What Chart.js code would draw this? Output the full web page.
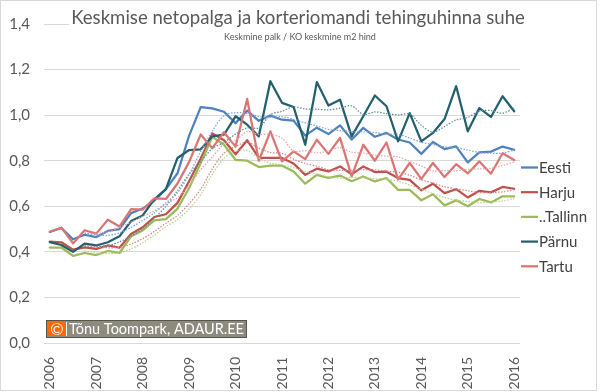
<!DOCTYPE html>
<html>
<head>
<meta charset="utf-8">
<script src="https://cdn.jsdelivr.net/npm/chart.js@4.4.1/dist/chart.umd.min.js"></script>
<style>
  html, body { margin: 0; padding: 0; background: #fff; }
</style>
</head>
<body>
<canvas id="chart" width="600" height="392"></canvas>
<script>
// quarterly observations, 2006 Q1 .. 2016 Q1
const quarters = [
  '2006 Q1','2006 Q2','2006 Q3','2006 Q4','2007 Q1','2007 Q2','2007 Q3','2007 Q4',
  '2008 Q1','2008 Q2','2008 Q3','2008 Q4','2009 Q1','2009 Q2','2009 Q3','2009 Q4',
  '2010 Q1','2010 Q2','2010 Q3','2010 Q4','2011 Q1','2011 Q2','2011 Q3','2011 Q4',
  '2012 Q1','2012 Q2','2012 Q3','2012 Q4','2013 Q1','2013 Q2','2013 Q3','2013 Q4',
  '2014 Q1','2014 Q2','2014 Q3','2014 Q4','2015 Q1','2015 Q2','2015 Q3','2015 Q4',
  '2016 Q1'
];
const yearLabels = ['2006','2007','2008','2009','2010','2011','2012','2013','2014','2015','2016'];
const seriesNames = ['Eesti', 'Harju', '..Tallinn', 'Pärnu', 'Tartu'];

const eesti = [0.487,0.505,0.455,0.475,0.465,0.492,0.500,0.570,0.590,0.625,0.675,0.745,0.910,1.035,1.030,1.015,
  0.965,1.020,0.975,0.998,0.980,0.976,0.910,0.945,0.917,0.955,0.893,0.944,0.905,0.922,0.893,0.880,
  0.830,0.882,0.851,0.863,0.793,0.837,0.840,0.862,0.848];
const harju = [0.445,0.442,0.410,0.420,0.413,0.428,0.418,0.478,0.508,0.553,0.565,0.615,0.710,0.810,0.920,0.890,
  0.828,0.890,0.812,0.812,0.812,0.788,0.738,0.765,0.753,0.775,0.740,0.775,0.750,0.752,0.724,0.716,
  0.670,0.699,0.658,0.675,0.639,0.668,0.661,0.685,0.677];
const tallinn = [0.419,0.419,0.382,0.395,0.386,0.404,0.395,0.468,0.494,0.538,0.544,0.590,0.680,0.790,0.905,0.870,
  0.804,0.800,0.772,0.778,0.778,0.753,0.699,0.738,0.725,0.735,0.710,0.731,0.709,0.724,0.672,0.672,
  0.626,0.653,0.604,0.626,0.600,0.632,0.617,0.644,0.644];
const parnu = [0.443,0.430,0.400,0.436,0.428,0.442,0.468,0.535,0.560,0.630,0.675,0.812,0.847,0.850,0.907,0.914,
  0.995,0.958,0.907,1.149,1.054,1.036,0.870,1.145,1.042,1.068,0.907,0.995,1.086,1.039,0.885,1.009,
  0.885,0.922,0.983,1.127,0.929,1.031,0.992,1.083,1.017];
const tartu = [0.488,0.506,0.437,0.495,0.480,0.541,0.511,0.588,0.585,0.635,0.632,0.700,0.795,0.915,0.855,0.925,
  0.862,1.071,0.800,0.929,0.797,0.841,0.807,0.892,0.830,0.900,0.731,0.870,0.800,0.880,0.718,0.790,
  0.720,0.790,0.728,0.785,0.744,0.797,0.743,0.833,0.803];

// dotted trend lines (4-quarter moving average as drawn in the original)
const eestiTrend = [null,null,null,0.481,0.475,0.472,0.483,0.507,0.538,0.571,0.615,0.659,0.739,0.841,0.930,0.998,
  1.011,1.008,0.994,0.990,0.993,0.982,0.966,0.953,0.937,0.932,0.928,0.927,0.924,0.916,0.916,0.900,
  0.881,0.871,0.861,0.857,0.847,0.836,0.833,0.833,0.847];
const harjuTrend = [null,null,null,0.429,0.421,0.418,0.420,0.434,0.458,0.489,0.526,0.560,0.611,0.675,0.764,0.833,
  0.862,0.882,0.855,0.836,0.832,0.806,0.788,0.776,0.761,0.758,0.758,0.761,0.760,0.754,0.750,0.736,
  0.716,0.702,0.686,0.676,0.668,0.660,0.661,0.663,0.673];
const tallinnTrend = [null,null,null,0.404,0.396,0.392,0.395,0.413,0.440,0.474,0.511,0.542,0.588,0.651,0.741,0.811,
  0.842,0.845,0.812,0.789,0.782,0.770,0.752,0.742,0.729,0.724,0.727,0.725,0.721,0.719,0.709,0.694,
  0.674,0.656,0.639,0.627,0.621,0.616,0.619,0.623,0.634];
const parnuTrend = [null,null,null,0.427,0.424,0.427,0.444,0.468,0.501,0.548,0.600,0.669,0.741,0.796,0.854,0.880,
  0.917,0.944,0.944,1.002,1.017,1.037,1.027,1.026,1.023,1.031,1.041,1.003,1.014,1.007,1.001,1.005,
  0.955,0.925,0.950,0.979,0.990,1.018,1.020,1.009,1.031];
const tartuTrend = [null,null,null,0.482,0.480,0.488,0.507,0.530,0.556,0.580,0.610,0.638,0.691,0.761,0.816,0.873,
  0.889,0.928,0.915,0.916,0.899,0.842,0.844,0.834,0.843,0.857,0.838,0.833,0.825,0.820,0.817,0.797,
  0.777,0.755,0.757,0.756,0.762,0.764,0.767,0.779,0.794];

const colors = ['#4F81BD', '#C0504D', '#9BBB59', '#23606E', '#DA7573'];
const trendColors = ['#7FA3D3', '#D38684', '#B9D08D', '#5E8C98', '#E8A3A2'];

const titleText = 'Keskmise netopalga ja korteriomandi tehinguhinna suhe';
const subtitleText = 'Keskmine palk / KO keskmine m2 hind';
const creditText = 'Tõnu Toompark, ADAUR.EE';
const FONT = 'Lato, "Open Sans", sans-serif';

const mainData = [eesti, harju, tallinn, parnu, tartu];
const trendData = [eestiTrend, harjuTrend, tallinnTrend, parnuTrend, tartuTrend];

const datasets = [];
mainData.forEach((d, i) => {
  datasets.push({
    label: seriesNames[i],
    data: d,
    borderColor: colors[i],
    backgroundColor: colors[i],
    borderWidth: 2.25,
    pointRadius: 0,
    tension: 0,
    borderJoinStyle: 'round',
    borderCapStyle: 'round',
    order: 5 - i
  });
});
trendData.forEach((d, i) => {
  datasets.push({
    label: seriesNames[i] + ' trend',
    data: d,
    borderColor: trendColors[i],
    borderWidth: 1.25,
    borderDash: [1.5, 1.5],
    pointRadius: 0,
    tension: 0.3,
    order: 0
  });
});

// title, legend, watermark and frame
const decor = {
  id: 'decor',
  afterDraw(chart) {
    const ctx = chart.ctx;
    const area = chart.chartArea;
    ctx.save();

    ctx.strokeStyle = '#D9D9D9';
    ctx.lineWidth = 1;
    ctx.strokeRect(0.5, 0.5, 596, 390);

    ctx.font = '18.6px ' + FONT;
    const tw = ctx.measureText(titleText).width;
    ctx.fillStyle = '#fff';
    ctx.fillRect(300 - tw / 2 - 4, 9, area.right - (300 - tw / 2 - 4), 22);
    ctx.fillStyle = '#595959';
    ctx.textAlign = 'center';
    ctx.textBaseline = 'middle';
    ctx.fillText(titleText, 298, 18);
    ctx.font = '9px ' + FONT;
    ctx.fillText(subtitleText, 300, 37);

    // legend
    ctx.textAlign = 'left';
    ctx.font = '15px ' + FONT;
    seriesNames.forEach((name, i) => {
      const y = 167.5 + i * 24.7;
      ctx.strokeStyle = colors[i];
      ctx.lineWidth = 2.25;
      ctx.beginPath();
      ctx.moveTo(521, y);
      ctx.lineTo(538, y);
      ctx.stroke();
      ctx.fillStyle = '#404040';
      ctx.fillText(name, 539, y + 0.5);
    });

    // watermark
    ctx.fillStyle = '#8C8B7E';
    ctx.fillRect(46, 320, 201, 18);
    ctx.strokeStyle = '#55554C';
    ctx.lineWidth = 1;
    ctx.strokeRect(46.5, 320.5, 200, 17);
    ctx.fillStyle = '#FF6A00';
    ctx.fillRect(48, 322, 18, 14);
    ctx.fillStyle = '#fff';
    ctx.fillRect(66, 322, 1, 14);
    ctx.textAlign = 'center';
    ctx.font = '16px ' + FONT;
    ctx.fillText('\u00A9', 57, 329.5);
    ctx.textAlign = 'left';
    let fs = 15;
    ctx.font = fs + 'px ' + FONT;
    const cw = ctx.measureText(creditText).width;
    fs = Math.min(15, fs * 175 / cw);
    ctx.font = fs + 'px ' + FONT;
    ctx.fillText(creditText, 69, 329.5);

    ctx.restore();
  }
};

new Chart(document.getElementById('chart'), {
  type: 'line',
  data: { labels: quarters, datasets: datasets },
  options: {
    responsive: false,
    animation: false,
    layout: { padding: { top: 24, right: 80, left: 0, bottom: 0 } },
    plugins: {
      legend: { display: false },
      title: { display: false },
      tooltip: { enabled: false }
    },
    scales: {
      x: {
        type: 'category',
        offset: true,
        grid: { display: false },
        border: { display: false },
        ticks: {
          autoSkip: false,
          minRotation: 90,
          maxRotation: 90,
          padding: 6,
          color: '#595959',
          font: { family: FONT, size: 14 },
          callback: (v, i) => (i % 4 === 0 ? yearLabels[i / 4] : '')
        },
        afterFit: s => { s.height = 49; }
      },
      y: {
        min: 0,
        max: 1.4,
        grid: { color: '#D9D9D9', drawTicks: false },
        border: { display: false },
        ticks: {
          stepSize: 0.2,
          padding: 14,
          color: '#595959',
          font: { family: FONT, size: 15 },
          callback: v => v.toFixed(1).replace('.', ',')
        },
        afterFit: s => { s.width = 44; }
      }
    }
  },
  plugins: [decor]
});
</script>
</body>
</html>
